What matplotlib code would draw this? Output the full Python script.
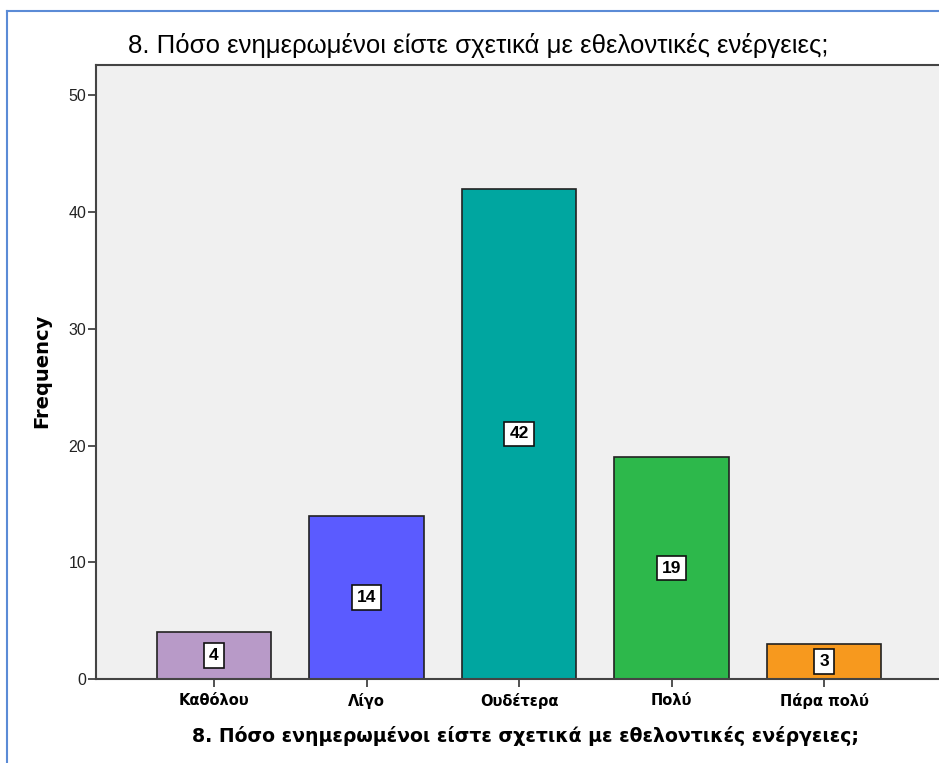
import matplotlib
matplotlib.use("Agg")
import matplotlib.pyplot as plt
from matplotlib.lines import Line2D

# data
categories = ["Καθόλου", "Λίγο", "Ουδέτερα", "Πολύ", "Πάρα πολύ"]
frequency = [4, 14, 42, 19, 3]
bar_colors = ["#b89ac8", "#5b5bff", "#00a6a0", "#2db84b", "#f7991e"]
title = "8. Πόσο ενημερωμένοι είστε σχετικά με εθελοντικές ενέργειες;"
y_ticks = [0, 10, 20, 30, 40, 50]

plt.rcParams["font.family"] = ["Liberation Sans", "DejaVu Sans"]

W, H = 939, 763
fig = plt.figure(figsize=(W / 100, H / 100), dpi=100)
fig.patch.set_facecolor("white")

# plot area in pixel coords: left 96, top 65, bottom 679, right edge of image
ax = fig.add_axes([96 / W, 1 - 679 / H, (W - 96) / W, (679 - 65) / H])
ax.set_facecolor("#f0f0f0")

x = list(range(len(categories)))
bars = ax.bar(x, frequency, width=0.75, color=bar_colors,
              edgecolor="#222222", linewidth=1.2, zorder=2)

for xi, v in zip(x, frequency):
    ax.text(xi, v / 2, str(v), ha="center", va="center", fontsize=12.5,
            fontweight="bold", zorder=3,
            bbox=dict(boxstyle="square,pad=0.28", facecolor="white",
                      edgecolor="#111111", linewidth=1.2))

ax.set_xlim(-0.774, 4.754)
ax.set_ylim(0, 52.6)
ax.set_yticks(y_ticks)
ax.set_xticks(x)
ax.set_xticklabels(categories, fontsize=10.5, fontweight="bold", family="DejaVu Sans")
ax.tick_params(axis="y", labelsize=11.5, length=6, width=1.2, color="#333333",
               pad=1, labelcolor="#222222")
ax.tick_params(axis="x", length=6, width=1.2, color="#333333", pad=4)

for side in ["top", "left", "bottom"]:
    ax.spines[side].set_color("#444444")
    ax.spines[side].set_linewidth(1.5)
ax.spines["right"].set_visible(False)

ax.set_ylabel("Frequency", fontsize=14, fontweight="bold", family="DejaVu Sans")
ax.yaxis.set_label_coords(-(96 - 42) / (W - 96), (679 - 371) / (679 - 65))
ax.set_xlabel(title, fontsize=13.6, fontweight="bold", family="DejaVu Sans")
ax.xaxis.set_label_coords((525 - 96) / (W - 96), -(736 - 679) / (679 - 65))
ax.xaxis.label.set_va("center")
ax.yaxis.label.set_va("center")

fig.text(478 / W, 1 - 46 / H, title, ha="center", va="center", fontsize=18.5)

# blue frame of the output window
fig.add_artist(Line2D([7 / W, 7 / W], [0, 1 - 11 / H], color="#5b8bd6", linewidth=1.5))
fig.add_artist(Line2D([7 / W, 1], [1 - 11 / H, 1 - 11 / H], color="#5b8bd6", linewidth=1.5))

fig.savefig("out.png", dpi=100)
